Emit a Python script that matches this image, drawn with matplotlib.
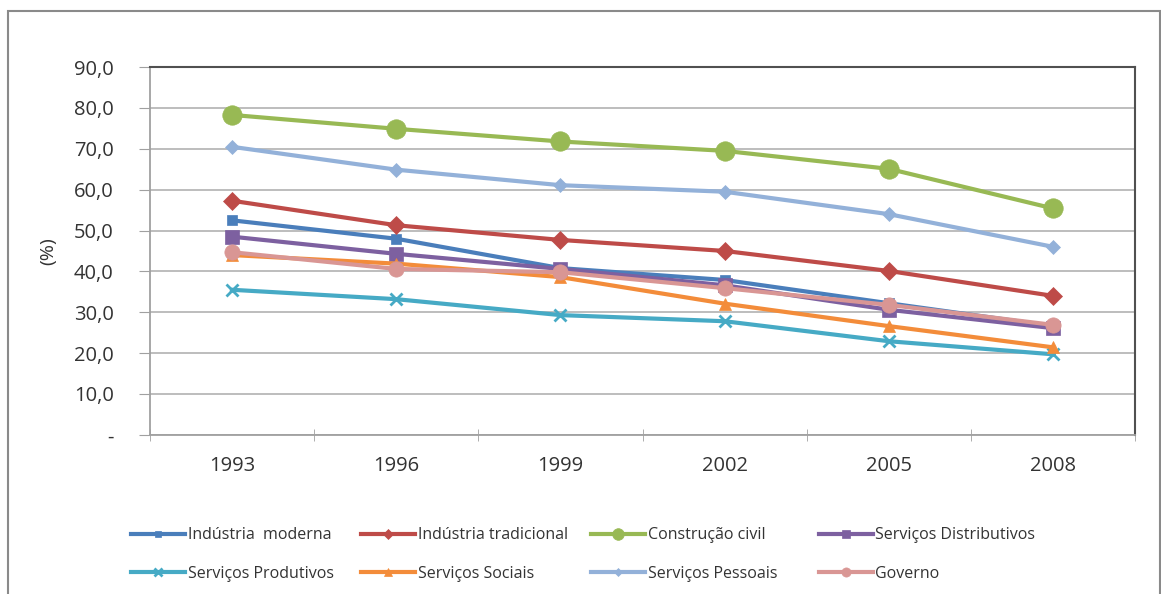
import matplotlib.pyplot as plt
import matplotlib.patches as patches

years = ["1993", "1996", "1999", "2002", "2005", "2008"]

industria_moderna = [52.5, 48.0, 40.8, 37.9, 32.2, 26.6]
industria_tradicional = [57.3, 51.3, 47.7, 45.0, 40.1, 34.0]
construcao_civil = [78.3, 74.9, 71.8, 69.5, 65.1, 55.4]
servicos_distributivos = [48.5, 44.3, 40.6, 36.6, 30.6, 26.1]
servicos_produtivos = [35.5, 33.2, 29.3, 27.8, 22.9, 19.7]
servicos_sociais = [44.0, 41.9, 38.6, 32.1, 26.6, 21.4]
servicos_pessoais = [70.5, 64.9, 61.1, 59.5, 54.0, 46.0]
governo = [44.7, 40.6, 39.8, 35.9, 31.8, 26.9]

y_ticks = [0, 10, 20, 30, 40, 50, 60, 70, 80, 90]
y_labels = ["-", "10,0", "20,0", "30,0", "40,0", "50,0", "60,0", "70,0", "80,0", "90,0"]

series = [
    ("Indústria  moderna", industria_moderna, "#4A7EBB", "s", 7),
    ("Indústria tradicional", industria_tradicional, "#BE4B48", "D", 9),
    ("Construção civil", construcao_civil, "#98B954", "o", 14),
    ("Serviços Distributivos", servicos_distributivos, "#7D60A0", "s", 10),
    ("Serviços Produtivos", servicos_produtivos, "#46AAC5", "x", 9),
    ("Serviços Sociais", servicos_sociais, "#F38C3A", "^", 9),
    ("Serviços Pessoais", servicos_pessoais, "#93B1D9", "D", 7),
    ("Governo", governo, "#D99694", "o", 11),
]

plt.rcParams["font.family"] = ["Open Sans", "DejaVu Sans"]
text_color = "#333333"

fig = plt.figure(figsize=(11.61, 5.94), dpi=100)
ax = fig.add_axes([0.129, 0.268, 0.849, 0.619])

x = list(range(len(years)))
handles = []
for name, vals, color, marker, ms in series:
    (h,) = ax.plot(
        x, vals, color=color, lw=3, marker=marker, markersize=ms,
        markeredgewidth=2 if marker == "x" else 0.5, markeredgecolor=color,
        label=name,
    )
    handles.append(h)

ax.set_xlim(-0.5, len(years) - 0.5)
ax.set_ylim(0, 90)
ax.set_xticks(x)
ax.set_xticklabels(years, fontsize=14.5, color=text_color)
ax.set_xticks([i - 0.5 for i in range(len(years) + 1)], minor=True)
ax.tick_params(axis="x", which="major", length=0, pad=15)
ax.tick_params(axis="x", which="minor", length=8, color="#A0A0A0", direction="inout")
ax.set_yticks(y_ticks)
ax.set_yticklabels(y_labels, fontsize=14.5, color=text_color)
ax.tick_params(axis="y", length=8, color="#A0A0A0", pad=18)
ax.grid(axis="y", color="#B8B8B8", lw=1.3)
ax.set_axisbelow(True)
ax.set_ylabel("(%)", fontsize=14, color=text_color, labelpad=12)

for side in ["left", "bottom"]:
    ax.spines[side].set_color("#A0A0A0")
    ax.spines[side].set_linewidth(1.3)
for side in ["top", "right"]:
    ax.spines[side].set_color("#505050")
    ax.spines[side].set_linewidth(1.5)

# legend: four columns of two entries
col_x = [0.113, 0.311, 0.509, 0.705]
for c in range(4):
    hs = [handles[c], handles[c + 4]]
    fig.legend(
        handles=hs, labels=[h.get_label() for h in hs],
        loc="upper left", bbox_to_anchor=(col_x[c], 0.112),
        frameon=False, fontsize=11.5, handlelength=3.4, handletextpad=0.15,
        labelspacing=1.4, markerscale=0.6, labelcolor=text_color,
        borderaxespad=0, borderpad=0,
    )

fig.patches.append(
    patches.Rectangle(
        (8 / 1161, -0.05), 1152 / 1161, 1.05 - 11 / 594,
        transform=fig.transFigure, fill=False, edgecolor="#8A8A8A", lw=1.5,
    )
)

fig.savefig("out.png", dpi=100, facecolor="white")
